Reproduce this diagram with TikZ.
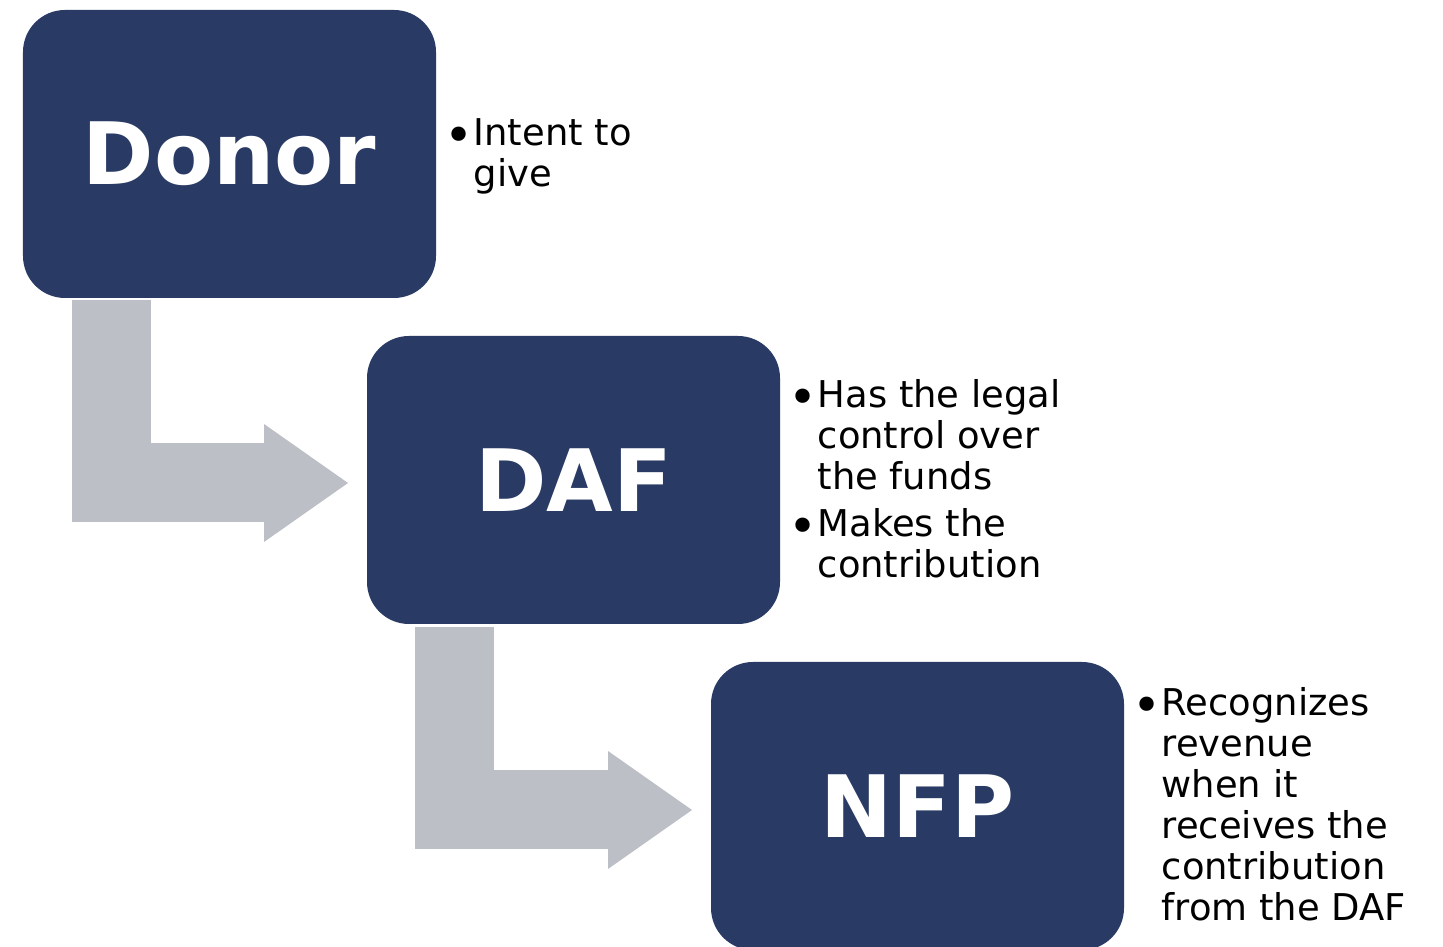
\documentclass[tikz,border=0pt]{standalone}
\usepackage{fontspec}
\setmainfont{DejaVu Sans}
\usepackage{tikz}
\usetikzlibrary{positioning,arrows.meta}
\usepackage{xcolor}
\definecolor{navydeep}{RGB}{41,58,100}
\definecolor{arrowgray}{RGB}{188,191,198}

\newcommand{\notefont}{\fontsize{10.5pt}{11.65pt}\selectfont}
\newcommand{\notebullet}{\makebox[0.37cm][l]{\hspace{0.08cm}%
  \raisebox{-2pt}{\fontsize{14pt}{14pt}\selectfont\textbullet}}}

\begin{document}
\begin{tikzpicture}[
    party/.style={fill=navydeep,rounded corners=0.42cm,minimum width=4.13cm,
                  minimum height=2.88cm,inner sep=0pt,outer sep=0pt,text=white,
                  font=\bfseries\fontsize{24.5pt}{28pt}\selectfont},
    notes/.style={anchor=west,inner sep=0pt,text=black,font=\notefont,
                  yshift=-0.04cm},
    bendarrow/.style={draw=arrowgray,line width=0.79cm,
                  -{Triangle[length=0.84cm,width=1.18cm,line width=0pt]}}
  ]
    \useasboundingbox (0,0) rectangle (14.43,9.47);

    \node[party] (donor) at (2.295,7.93) {Donor};
    \node[party,below right=0.38cm and -0.69cm of donor] (daf) {DAF};
    \node[party,below right=0.38cm and -0.69cm of daf] (nfp) {NFP};

    % bent flow arrows
    \draw[bendarrow] ([xshift=0.885cm,yshift=-0.02cm]donor.south west)
      |- ([xshift=-0.19cm,yshift=-0.03cm]daf.west);
    \draw[bendarrow] ([xshift=0.875cm,yshift=-0.03cm]daf.south west)
      |- ([xshift=-0.19cm,yshift=-0.04cm]nfp.west);

    \node[notes,right=0cm of donor] (donornotes)
      {\begin{tabular}{@{}l@{}l@{}}
        \notebullet & Intent to\\
                    & give
       \end{tabular}};
    \node[notes,right=0cm of daf] (dafnotes)
      {\begin{tabular}{@{}l@{}l@{}}
        \notebullet & Has the legal\\
                    & control over\\
                    & the funds\\[1.7pt]
        \notebullet & Makes the\\
                    & contribution
       \end{tabular}};
    \node[notes,right=0cm of nfp] (nfpnotes)
      {\begin{tabular}{@{}l@{}l@{}}
        \notebullet & Recognizes\\
                    & revenue\\
                    & when it\\
                    & receives the\\
                    & contribution\\
                    & from the DAF
       \end{tabular}};
\end{tikzpicture}
\end{document}
